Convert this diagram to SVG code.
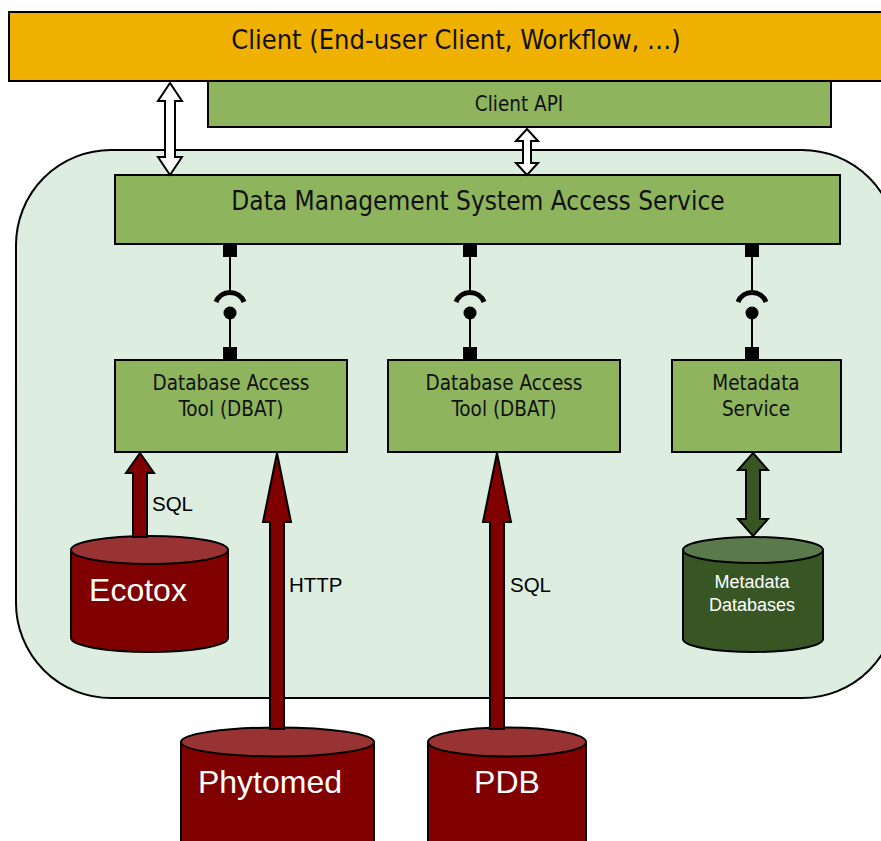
<svg xmlns="http://www.w3.org/2000/svg" width="881" height="841" viewBox="0 0 881 841">
<defs>
<style>
.box{fill:#8EB55E;stroke:#000;stroke-width:2}
.lbl{font-family:"DejaVu Sans Condensed","DejaVu Sans",sans-serif;font-stretch:condensed;fill:#111;text-anchor:middle}
.red{fill:#800000;stroke:#000;stroke-width:2}
.redtop{fill:#993333;stroke:#000;stroke-width:2}
.grn{fill:#375623;stroke:#000;stroke-width:2}
.grntop{fill:#5B7A4B;stroke:#000;stroke-width:2}
.dbl{font-family:"Liberation Sans",Arial,sans-serif;fill:#fff;text-anchor:middle}
.edge{font-family:"Liberation Sans",Arial,sans-serif;fill:#000}
.arr{stroke:#000;stroke-width:2;stroke-linejoin:miter}
.wire{stroke:#000;stroke-width:2;fill:none}
</style>
</defs>
<rect width="881" height="841" fill="#fff"/>
<g id="dms-container">
<rect x="16" y="150" width="881" height="548" rx="95" ry="95" fill="#DDEDE0" stroke="#000" stroke-width="2"/>
</g>
<g id="client">
<rect x="9" y="12" width="890" height="69" fill="#F0B000" stroke="#000" stroke-width="2"/>
<text class="lbl" x="456" y="49" font-size="27">Client (End-user Client, Workflow, …)</text>
</g>
<g id="client-api">
<rect class="box" x="208" y="81" width="623" height="46"/>
<text class="lbl" x="519" y="111" font-size="20.5">Client API</text>
</g>
<g id="dms-access">
<rect class="box" x="115" y="175" width="725" height="69"/>
<text class="lbl" x="478" y="210" font-size="26">Data Management System Access Service</text>
</g>
<g id="dbat1">
<rect class="box" x="115" y="360" width="232" height="92"/>
<text class="lbl" x="231" y="390" font-size="20.5">Database Access</text>
<text class="lbl" x="231" y="416" font-size="20.5">Tool (DBAT)</text>
</g>
<g id="dbat2">
<rect class="box" x="388" y="360" width="232" height="92"/>
<text class="lbl" x="504" y="390" font-size="20.5">Database Access</text>
<text class="lbl" x="504" y="416" font-size="20.5">Tool (DBAT)</text>
</g>
<g id="metadata-service">
<rect class="box" x="672" y="360" width="169" height="92"/>
<text class="lbl" x="756" y="390" font-size="20.5">Metadata</text>
<text class="lbl" x="756" y="416" font-size="20.5">Service</text>
</g>
<g id="ecotox">
<path class="red" d="M71,550 V638 A78.5,14 0 0 0 228,638 V550 Z"/>
<ellipse class="redtop" cx="149.5" cy="550" rx="78.5" ry="14"/>
<text class="dbl" x="138" y="601" font-size="32">Ecotox</text>
</g>
<g id="metadata-databases">
<path class="grn" d="M683,550 V639 A70,13 0 0 0 823,639 V550 Z"/>
<ellipse class="grntop" cx="753" cy="550" rx="70" ry="13"/>
<text class="dbl" x="752" y="588" font-size="18">Metadata</text>
<text class="dbl" x="752" y="611" font-size="18">Databases</text>
</g>
<g id="phytomed">
<path class="red" d="M181,742 V850 H374 V742 Z"/>
<ellipse class="redtop" cx="277.5" cy="742" rx="96.5" ry="14.5"/>
<text class="dbl" x="270" y="793" font-size="32">Phytomed</text>
</g>
<g id="pdb">
<path class="red" d="M428,742 V850 H586 V742 Z"/>
<ellipse class="redtop" cx="507" cy="742" rx="79" ry="14.5"/>
<text class="dbl" x="507" y="793" font-size="32">PDB</text>
</g>
<g id="connectors">
<polygon class="arr" fill="#fff" points="170,83 182,101 175,101 175,157 182,157 170,175 158,157 165,157 165,101 158,101"/>
<polygon class="arr" fill="#fff" points="527,129 538,141 531,141 531,163 538,163 527,175 516,163 523,163 523,141 516,141"/>
<g id="iface1">
<rect x="223" y="244" width="14" height="13" fill="#000"/>
<line class="wire" x1="230" y1="257" x2="230" y2="292"/>
<path d="M216,302 A15,15 0 0 1 244,302" fill="none" stroke="#000" stroke-width="5"/>
<circle cx="230" cy="313" r="6.5" fill="#000"/>
<line class="wire" x1="230" y1="313" x2="230" y2="348"/>
<rect x="223" y="347" width="14" height="13" fill="#000"/>
</g>
<g id="iface2">
<rect x="463" y="244" width="14" height="13" fill="#000"/>
<line class="wire" x1="470" y1="257" x2="470" y2="292"/>
<path d="M456,302 A15,15 0 0 1 484,302" fill="none" stroke="#000" stroke-width="5"/>
<circle cx="470" cy="313" r="6.5" fill="#000"/>
<line class="wire" x1="470" y1="313" x2="470" y2="348"/>
<rect x="463" y="347" width="14" height="13" fill="#000"/>
</g>
<g id="iface3">
<rect x="745" y="244" width="14" height="13" fill="#000"/>
<line class="wire" x1="752" y1="257" x2="752" y2="292"/>
<path d="M738,302 A15,15 0 0 1 766,302" fill="none" stroke="#000" stroke-width="5"/>
<circle cx="752" cy="313" r="6.5" fill="#000"/>
<line class="wire" x1="752" y1="313" x2="752" y2="348"/>
<rect x="745" y="347" width="14" height="13" fill="#000"/>
</g>
<polygon class="arr" fill="#800000" points="140,453 154,473 147,473 147,537 133,537 133,473 126,473"/>
<text class="edge" x="152" y="511" font-size="20.5">SQL</text>
<polygon class="arr" fill="#800000" points="277,453 291,522 284,522 284,729 270,729 270,522 263,522"/>
<text class="edge" x="289" y="592" font-size="20.5">HTTP</text>
<polygon class="arr" fill="#800000" points="497,453 511,522 504,522 504,729 490,729 490,522 483,522"/>
<text class="edge" x="510" y="592" font-size="20.5">SQL</text>
<polygon class="arr" fill="#375623" points="753,453 768,470 760,470 760,519 768,519 753,536 738,519 746,519 746,470 738,470"/>
</g>
</svg>
